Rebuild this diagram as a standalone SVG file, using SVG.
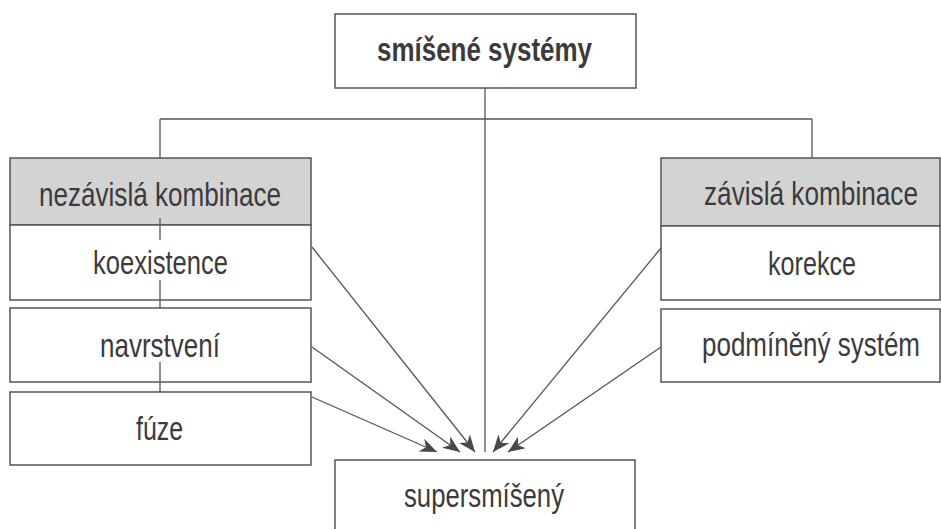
<svg xmlns="http://www.w3.org/2000/svg" width="941" height="529" viewBox="0 0 941 529">
<style>
.box{fill:#fff;stroke:#555;stroke-width:1.5}
.hdr{fill:#d3d3d3;stroke:#555;stroke-width:1.5}
.t{font-family:"Liberation Sans",Arial,sans-serif;font-size:33px;fill:#3c3a3c;text-anchor:start}
.b{font-weight:bold}
.ln{stroke:#555;stroke-width:1.3;fill:none}
</style>
<defs>
<marker id="ah" markerUnits="userSpaceOnUse" markerWidth="18" markerHeight="14" refX="17" refY="7" orient="auto">
<path d="M0,0 L17,7 L0,14 L5,7 z" fill="#4a4648"/>
</marker>
</defs>
<rect width="941" height="529" fill="#fff"/>
<g id="connectors">
<path class="ln" d="M485,88 V452"/>
<path class="ln" d="M160,119 H812"/>
<path class="ln" d="M160,119 V158"/>
<path class="ln" d="M812,119 V158"/>
<path class="ln" d="M312,247 L475,452" marker-end="url(#ah)"/>
<path class="ln" d="M312,347 L460,452" marker-end="url(#ah)"/>
<path class="ln" d="M312,397 L437,452" marker-end="url(#ah)"/>
<path class="ln" d="M661,248 L493,452" marker-end="url(#ah)"/>
<path class="ln" d="M661,347 L508,452" marker-end="url(#ah)"/>
</g>
<g id="top">
<rect class="box" x="335" y="14" width="301" height="74"/>
<text class="t b" x="377" y="61" textLength="215" lengthAdjust="spacingAndGlyphs">smíšené systémy</text>
</g>
<g id="nezavisla">
<rect class="hdr" x="10" y="158" width="301" height="67"/>
<text class="t" x="39" y="206" textLength="242" lengthAdjust="spacingAndGlyphs">nezávislá kombinace</text>
</g>
<g id="koexistence">
<rect class="box" x="10" y="225" width="301" height="75"/>
<text class="t" x="93" y="274" textLength="135" lengthAdjust="spacingAndGlyphs">koexistence</text>
</g>
<g id="navrstveni">
<rect class="box" x="10" y="308" width="301" height="74"/>
<text class="t" x="100" y="357" textLength="120" lengthAdjust="spacingAndGlyphs">navrstvení</text>
</g>
<g id="fuze">
<rect class="box" x="10" y="392" width="301" height="73"/>
<text class="t" x="136" y="440" textLength="47" lengthAdjust="spacingAndGlyphs">fúze</text>
</g>
<g id="left-spine">
<path class="ln" d="M160,218 V240 M160,280 V308 M160,362 V392"/>
</g>
<g id="zavisla">
<rect class="hdr" x="661" y="158" width="279" height="68"/>
<text class="t" x="704" y="205" textLength="214" lengthAdjust="spacingAndGlyphs">závislá kombinace</text>
</g>
<g id="korekce">
<rect class="box" x="661" y="226" width="279" height="74"/>
<text class="t" x="768" y="275" textLength="88" lengthAdjust="spacingAndGlyphs">korekce</text>
</g>
<g id="podmineny">
<rect class="box" x="661" y="309" width="279" height="73"/>
<text class="t" x="702" y="356" textLength="218" lengthAdjust="spacingAndGlyphs">podmíněný systém</text>
</g>
<g id="supersmiseny">
<rect class="box" x="335" y="460" width="300" height="90"/>
<text class="t" x="404" y="507" textLength="160" lengthAdjust="spacingAndGlyphs">supersmíšený</text>
</g>
</svg>
